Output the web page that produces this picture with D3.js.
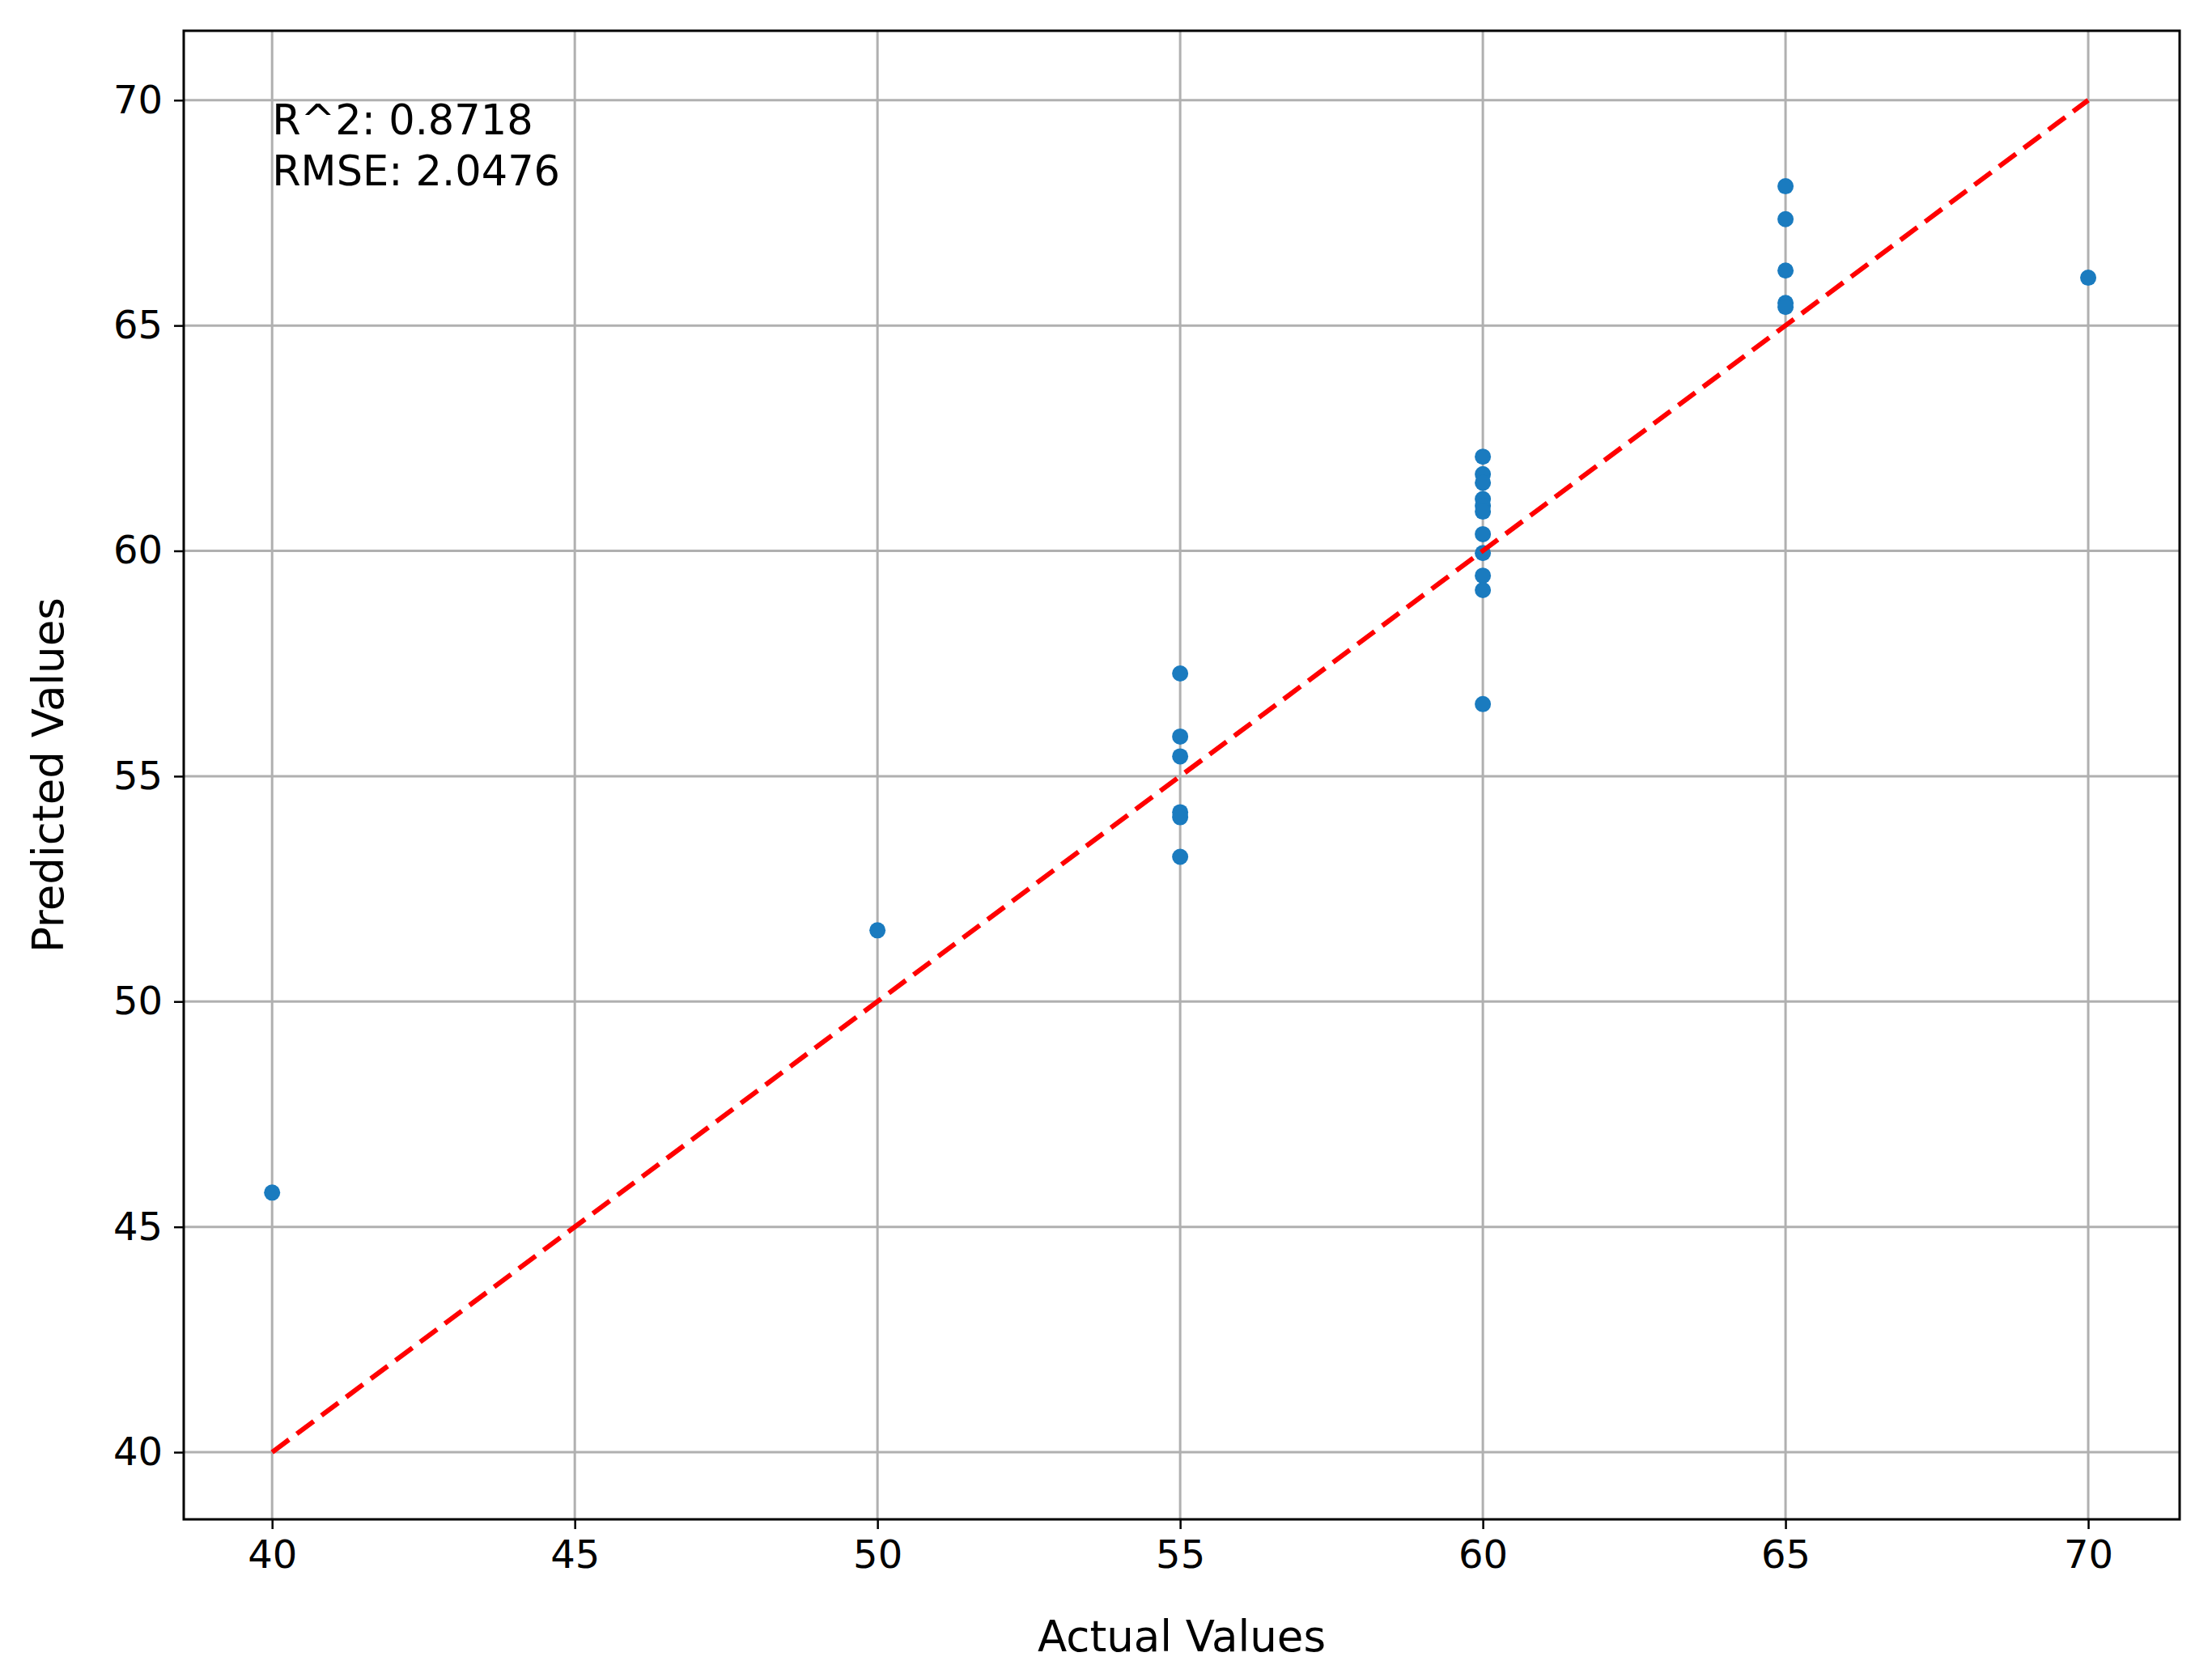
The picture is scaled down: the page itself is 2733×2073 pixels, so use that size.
<!DOCTYPE html>
<html>
<head>
<meta charset="utf-8">
<script src="https://cdn.jsdelivr.net/npm/d3@7"></script>
<style>
  body { margin: 0; background: #fff; }
  text { font-family: "DejaVu Sans", sans-serif; }
</style>
</head>
<body>
<script>
// actual vs predicted
var actual = [40, 50, 55, 55, 55, 55, 55, 55,
  60, 60, 60, 60, 60, 60, 60, 60, 60, 60, 60,
  65, 65, 65, 65, 65, 70];
var predicted = [45.76, 51.58, 57.28, 55.88, 55.44, 54.2, 54.09, 53.21,
  62.09, 61.7, 61.51, 61.15, 61.0, 60.87, 60.37, 59.95, 59.45, 59.13, 56.6,
  68.09, 67.36, 66.22, 65.5, 65.41, 66.06];
var xTicks = [40, 45, 50, 55, 60, 65, 70];
var yTicks = [40, 45, 50, 55, 60, 65, 70];
var idealLine = [40, 70];
var statsText = ["R^2: 0.8718", "RMSE: 2.0476"];

var W = 2733, H = 2073;
var m = {left: 227, right: 2693, top: 38, bottom: 1877};

var svg = d3.select("body").append("svg")
  .attr("width", W).attr("height", H);

var x = d3.scaleLinear().domain([38.54, 71.51]).range([m.left, m.right]);
var y = d3.scaleLinear().domain([38.51, 71.54]).range([m.bottom, m.top]);

// grid
svg.append("g").selectAll("line").data(xTicks).join("line")
  .attr("x1", d => x(d)).attr("x2", d => x(d))
  .attr("y1", m.top).attr("y2", m.bottom)
  .attr("stroke", "#b0b0b0").attr("stroke-width", 3);
svg.append("g").selectAll("line").data(yTicks).join("line")
  .attr("y1", d => y(d)).attr("y2", d => y(d))
  .attr("x1", m.left).attr("x2", m.right)
  .attr("stroke", "#b0b0b0").attr("stroke-width", 3);

// axes
var xAxis = svg.append("g")
  .attr("transform", "translate(0," + m.bottom + ")")
  .call(d3.axisBottom(x).tickValues(xTicks).tickSize(12).tickPadding(14));
var yAxis = svg.append("g")
  .attr("transform", "translate(" + m.left + ",0)")
  .call(d3.axisLeft(y).tickValues(yTicks).tickSize(12).tickPadding(14));
[xAxis, yAxis].forEach(function(a) {
  a.select(".domain").remove();
  a.selectAll("line").attr("stroke", "#000").attr("stroke-width", 2.5);
  a.selectAll("text").attr("font-size", 48).attr("fill", "#000")
    .style("font-family", "DejaVu Sans");
});

svg.append("rect")
  .attr("x", m.left).attr("y", m.top)
  .attr("width", m.right - m.left).attr("height", m.bottom - m.top)
  .attr("fill", "none").attr("stroke", "#000").attr("stroke-width", 3);

// points
svg.append("g").selectAll("circle").data(actual).join("circle")
  .attr("cx", d => x(d))
  .attr("cy", (d, i) => y(predicted[i]))
  .attr("r", 10)
  .attr("fill", "#1a7bbf");

// ideal line
svg.append("line")
  .attr("x1", x(idealLine[0])).attr("y1", y(idealLine[0]))
  .attr("x2", x(idealLine[1])).attr("y2", y(idealLine[1]))
  .attr("stroke", "#ff0000").attr("stroke-width", 6)
  .attr("stroke-dasharray", "26,12");

// stats
svg.append("g").selectAll("text").data(statsText).join("text")
  .attr("x", x(40))
  .attr("y", (d, i) => y(70) + 42 + i * 63)
  .attr("font-size", 51)
  .text(d => d);

// labels
svg.append("text")
  .attr("x", (m.left + m.right) / 2).attr("y", 2040)
  .attr("text-anchor", "middle").attr("font-size", 53)
  .text("Actual Values");
svg.append("text")
  .attr("transform", "translate(78," + (m.top + m.bottom) / 2 + ") rotate(-90)")
  .attr("text-anchor", "middle").attr("font-size", 53)
  .text("Predicted Values");
</script>
</body>
</html>
